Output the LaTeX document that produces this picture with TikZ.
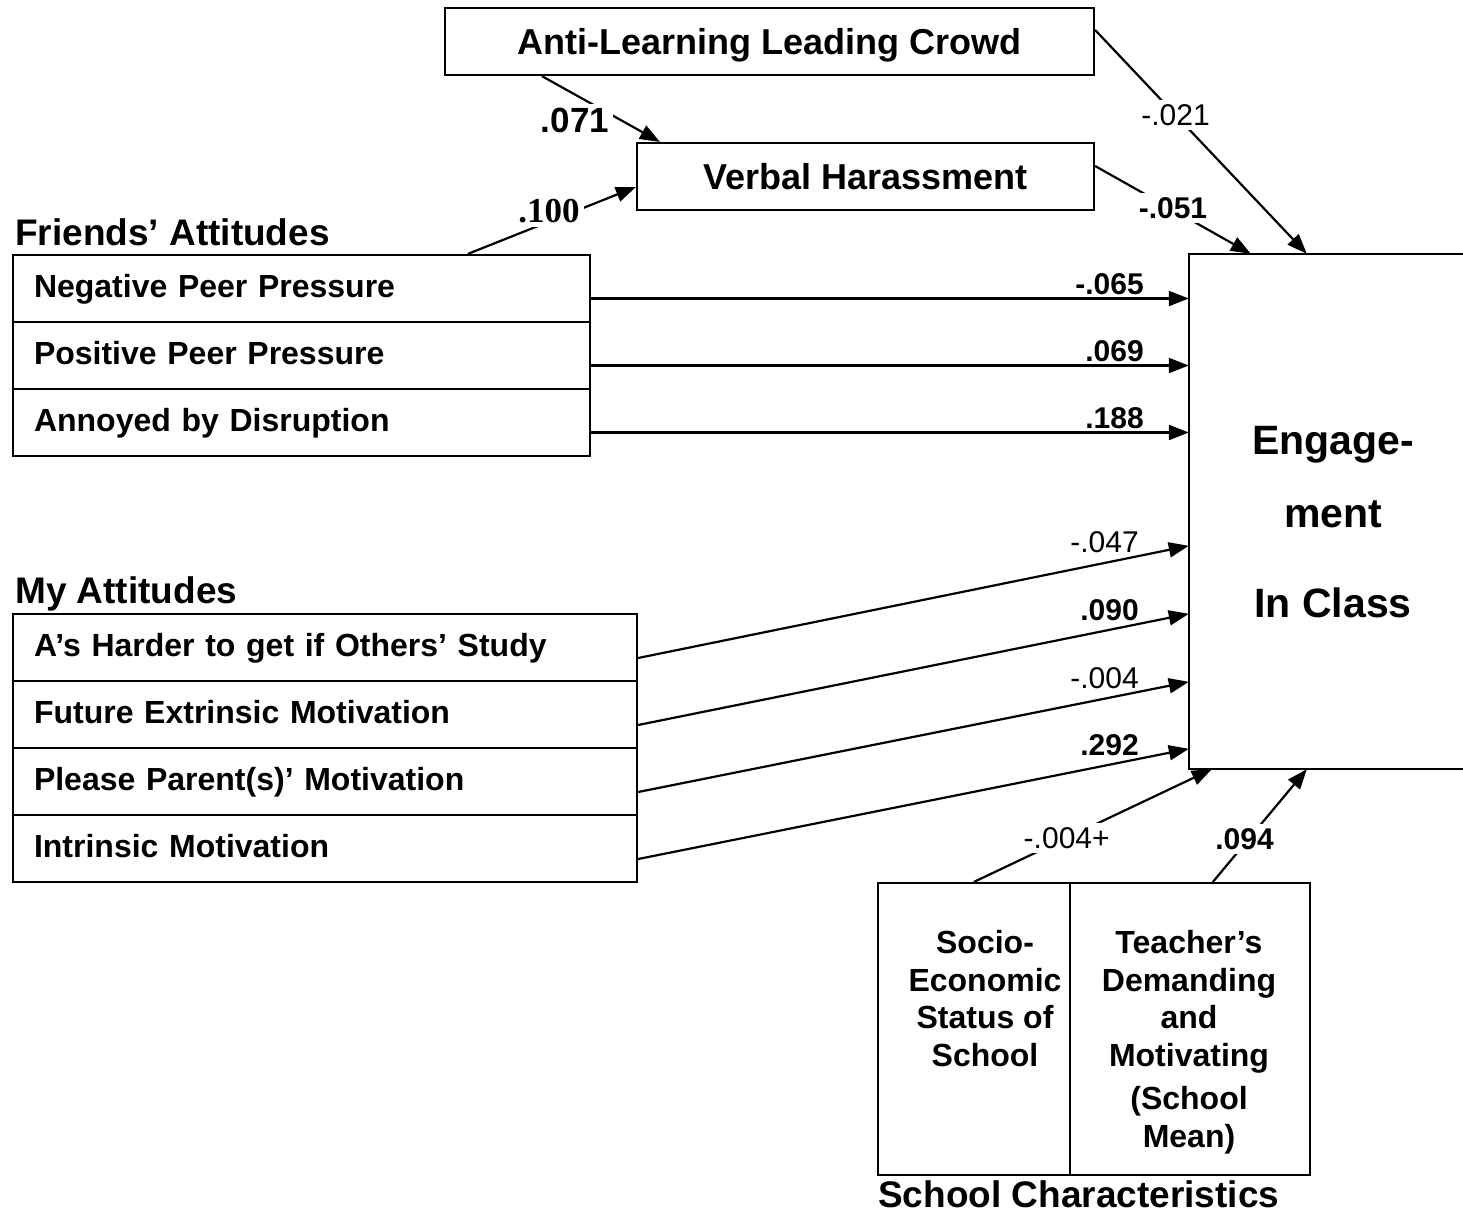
\documentclass[tikz,border=0pt]{standalone}
\usepackage{fontspec}
\setmainfont{Liberation Sans}
\newfontfamily\myserif{Liberation Serif}
\usetikzlibrary{arrows.meta}
\begin{document}
\begin{tikzpicture}[x=1pt,y=-1pt,
  bx/.style={draw, line width=2.2pt, rectangle, inner sep=0pt, text height=26pt, text depth=0pt,
    font=\fontsize{36pt}{43pt}\selectfont\bfseries},
  rowbox/.style={draw, line width=2.2pt, rectangle, inner xsep=21pt, inner ysep=0pt,
    minimum height=67pt, align=left, text height=23pt, text depth=5pt,
    font=\fontsize{32pt}{38pt}\selectfont\bfseries},
  cell/.style={draw, line width=2.2pt, rectangle, inner sep=0pt, minimum height=292pt},
  celltxt/.style={inner sep=0pt, font=\fontsize{32pt}{38pt}\selectfont\bfseries},
  engtxt/.style={inner sep=0pt, font=\fontsize{41pt}{48pt}\selectfont\bfseries},
  grp/.style={inner sep=0pt, font=\fontsize{37pt}{44pt}\selectfont\bfseries},
  conn/.style={draw, line width=2.2pt, -{Triangle[length=20pt,width=15pt]}},
  lab/.style={inner sep=0pt, font=\fontsize{30pt}{36pt}\selectfont\bfseries},
  labn/.style={inner sep=0pt, font=\fontsize{30pt}{36pt}\selectfont},
  wlab/.style={fill=white, inner sep=4pt, font=\fontsize{30pt}{36pt}\selectfont\bfseries},
  wlabn/.style={fill=white, inner sep=4pt, font=\fontsize{30pt}{36pt}\selectfont}
]
\useasboundingbox (0,0) rectangle (1463,1213);
\fill[white] (0,0) rectangle (1463,1213);

% top boxes
\node[bx, minimum width=649pt, minimum height=67pt] (anti) at (769.5,41.5) {Anti-Learning Leading Crowd};
\node[bx, minimum width=457pt, minimum height=67pt] (verbal) at (865.5,176.5) {Verbal Harassment};

% group titles
\node[grp, anchor=base west] (fa) at (15,245) {Friends’ Attitudes};
\node[grp, anchor=base west] (ma) at (15,603) {My Attitudes};
\node[grp, anchor=base west] (sc) at (878,1207) {School Characteristics};

% friends rows
\node[rowbox, text width=535pt] (np) at (301.5,288.5) {Negative Peer Pressure};
\node[rowbox, text width=535pt] (pp) at (301.5,355.5) {Positive Peer Pressure};
\node[rowbox, text width=535pt] (ad) at (301.5,422.5) {Annoyed by Disruption};

% my rows
\node[rowbox, text width=582pt] (ah) at (325,647.5) {A’s Harder to get if Others’ Study};
\node[rowbox, text width=582pt] (fe) at (325,714.5) {Future Extrinsic Motivation};
\node[rowbox, text width=582pt] (pl) at (325,781.5) {Please Parent(s)’ Motivation};
\node[rowbox, text width=582pt] (im) at (325,848.5) {Intrinsic Motivation};

% engagement box (right side runs off the picture)
\node[inner sep=0pt, minimum width=276pt, minimum height=515pt] (eng) at (1327,511.5) {};
\draw[line width=2.2pt] (eng.north east) -- (eng.north west) -- (eng.south west) -- (eng.south east);
\node[engtxt, anchor=base] (eng1) at (1333,454) {Engage-};
\node[engtxt, anchor=base] (eng2) at (1333,527) {ment};
\node[engtxt, anchor=base] (eng3) at (1333,617) {In Class};

% school cells
\node[cell, minimum width=192pt] (ses) at (974,1029) {};
\node[cell, minimum width=240pt] (tdm) at (1190,1029) {};
\foreach \t/\y [count=\i] in {Socio-/953, Economic/991, {Status of}/1028, School/1066}
  \node[celltxt, anchor=base] (sest\i) at (985,\y) {\t};
\foreach \t/\y [count=\i] in {{Teacher’s}/953, Demanding/991, and/1028, Motivating/1066, {(School}/1109, {Mean)}/1147}
  \node[celltxt, anchor=base] (tdmt\i) at (1189,\y) {\t};

% connectors to verbal harassment
\draw[conn] ([xshift=98pt]anti.south west) -- ([xshift=24pt]verbal.north west);
\node[wlab, font=\fontsize{35pt}{42pt}\selectfont\bfseries] (l071) at (575,120) {.071};
\draw[conn] ([xshift=456pt]np.north west) -- ([yshift=-10.5pt]verbal.west);
\node[wlab, font=\fontsize{35pt}{41pt}\selectfont\myserif\bfseries] (l100) at (549,211) {.100};

% to engagement from top
\draw[conn] ([yshift=11.5pt]anti.east) -- ([xshift=118pt]eng.north west)
  node[wlabn, pos=0.38] (l021) {-.021};
\draw[conn] ([yshift=10.5pt]verbal.east) -- ([xshift=62pt]eng.north west)
  node[wlab, pos=0.5, yshift=2pt] (l051) {-.051};

% friends rows to engagement
\draw[conn] ([yshift=-10pt]np.east) -- ([yshift=-10pt]np.east -| eng.west)
  node[lab, pos=1, anchor=base east, xshift=-44pt, yshift=4pt] (l065) {-.065};
\draw[conn] ([yshift=-10pt]pp.east) -- ([yshift=-10pt]pp.east -| eng.west)
  node[lab, pos=1, anchor=base east, xshift=-44pt, yshift=4pt] (l069) {.069};
\draw[conn] ([yshift=-10pt]ad.east) -- ([yshift=-10pt]ad.east -| eng.west)
  node[lab, pos=1, anchor=base east, xshift=-44pt, yshift=4pt] (l188) {.188};

% my rows to engagement
\draw[conn] ([yshift=-10.5pt]ah.east) -- ([yshift=-292pt]eng.north west)
  node[labn, pos=1, anchor=base east, xshift=-49pt, yshift=-7pt] (l047) {-.047};
\draw[conn] ([yshift=-10.5pt]fe.east) -- ([yshift=-360pt]eng.north west)
  node[lab, pos=1, anchor=base east, xshift=-49pt, yshift=-7pt] (l090) {.090};
\draw[conn] ([yshift=-10.5pt]pl.east) -- ([yshift=-428pt]eng.north west)
  node[labn, pos=1, anchor=base east, xshift=-49pt, yshift=-7pt] (l004) {-.004};
\draw[conn] ([yshift=-10.5pt]im.east) -- ([yshift=-495pt]eng.north west)
  node[lab, pos=1, anchor=base east, xshift=-49pt, yshift=-7pt] (l292) {.292};

% school characteristics to engagement
\draw[conn] ([xshift=97pt]ses.north west) -- ([xshift=23pt]eng.south west)
  node[wlabn, pos=0.39] (l004p) {-.004+};
\draw[conn] ([xshift=144pt]tdm.north west) -- ([xshift=118pt]eng.south west)
  node[wlab, pos=0.38, xshift=-4pt] (l094) {.094};
\end{tikzpicture}
\end{document}
